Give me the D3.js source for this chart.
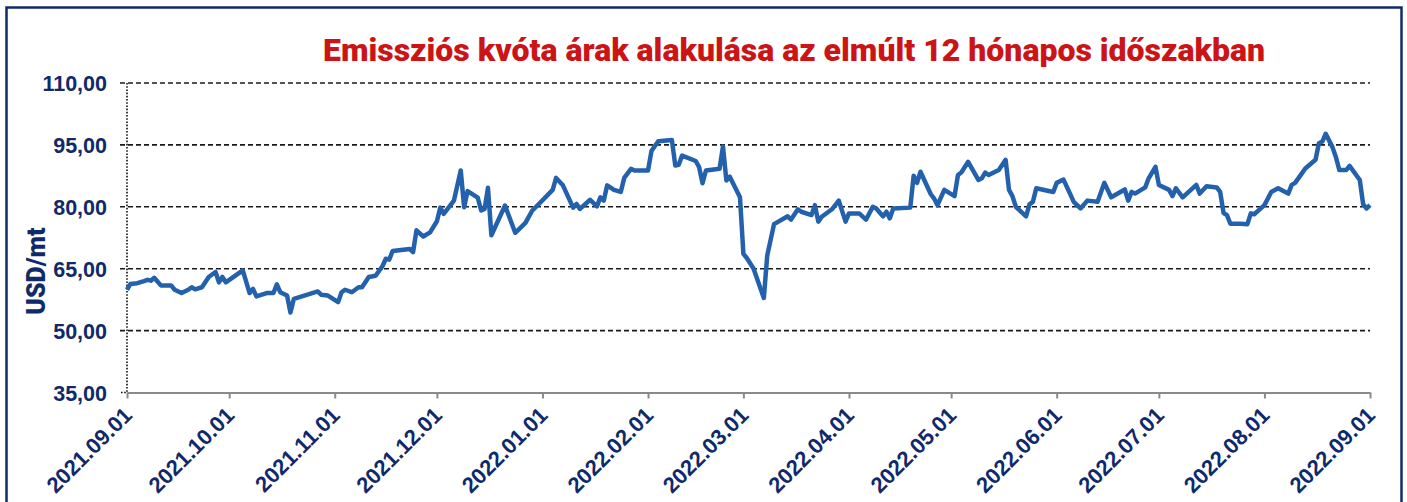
<!DOCTYPE html>
<html>
<head>
<meta charset="utf-8">
<script src="https://cdn.jsdelivr.net/npm/d3@7"></script>
<style>
  html, body { margin: 0; padding: 0; background: #fff; }
  svg { display: block; }
</style>
</head>
<body>
<div id="chart"></div>
<script>
// data (USD/mt)
titleText = "Emissziós kvóta árak alakulása az elmúlt 12 hónapos időszakban"
yLabel = "USD/mt"
yTicks = [35, 50, 65, 80, 95, 110]
dates = [
  "2021-09-01","2021-09-02","2021-09-04","2021-09-06","2021-09-07","2021-09-08","2021-09-09","2021-09-11",
  "2021-09-14","2021-09-15","2021-09-17","2021-09-19","2021-09-20","2021-09-21","2021-09-23","2021-09-25",
  "2021-09-27","2021-09-28","2021-09-29","2021-09-30","2021-10-05","2021-10-07","2021-10-08","2021-10-09",
  "2021-10-12","2021-10-14","2021-10-15","2021-10-16","2021-10-18","2021-10-19","2021-10-20","2021-10-24",
  "2021-10-27","2021-10-28","2021-10-30","2021-11-02","2021-11-03","2021-11-04","2021-11-06","2021-11-08",
  "2021-11-09","2021-11-11","2021-11-13","2021-11-15","2021-11-16","2021-11-17","2021-11-18","2021-11-23",
  "2021-11-24","2021-11-25","2021-11-27","2021-11-29","2021-12-01","2021-12-02","2021-12-03","2021-12-06",
  "2021-12-08","2021-12-09","2021-12-10","2021-12-13","2021-12-14","2021-12-15","2021-12-16","2021-12-17",
  "2021-12-21","2021-12-24","2021-12-27","2021-12-29","2021-12-30","2022-01-04","2022-01-05","2022-01-07",
  "2022-01-10","2022-01-11","2022-01-12","2022-01-15","2022-01-17","2022-01-18","2022-01-19","2022-01-20",
  "2022-01-22","2022-01-24","2022-01-25","2022-01-27","2022-01-28","2022-02-01","2022-02-02","2022-02-04",
  "2022-02-08","2022-02-09","2022-02-10","2022-02-11","2022-02-15","2022-02-16","2022-02-17","2022-02-18",
  "2022-02-22","2022-02-23","2022-02-24","2022-02-25","2022-02-28","2022-03-01","2022-03-02","2022-03-04",
  "2022-03-07","2022-03-08","2022-03-10","2022-03-14","2022-03-15","2022-03-17","2022-03-18","2022-03-21",
  "2022-03-22","2022-03-23","2022-03-24","2022-03-27","2022-03-29","2022-03-31","2022-04-01","2022-04-04",
  "2022-04-06","2022-04-08","2022-04-09","2022-04-11","2022-04-12","2022-04-13","2022-04-14","2022-04-19",
  "2022-04-20","2022-04-21","2022-04-22","2022-04-25","2022-04-26","2022-04-27","2022-04-29","2022-05-02",
  "2022-05-03","2022-05-04","2022-05-06","2022-05-09","2022-05-10","2022-05-11","2022-05-12","2022-05-15",
  "2022-05-17","2022-05-18","2022-05-19","2022-05-20","2022-05-23","2022-05-24","2022-05-25","2022-05-26",
  "2022-05-31","2022-06-01","2022-06-03","2022-06-05","2022-06-06","2022-06-08","2022-06-10","2022-06-13",
  "2022-06-15","2022-06-17","2022-06-21","2022-06-22","2022-06-23","2022-06-24","2022-06-27","2022-06-28",
  "2022-06-30","2022-07-01","2022-07-04","2022-07-05","2022-07-06","2022-07-08","2022-07-12","2022-07-13",
  "2022-07-15","2022-07-18","2022-07-19","2022-07-20","2022-07-21","2022-07-22","2022-07-25","2022-07-27",
  "2022-07-28","2022-07-29","2022-08-01","2022-08-03","2022-08-05","2022-08-08","2022-08-09","2022-08-10",
  "2022-08-12","2022-08-13","2022-08-16","2022-08-17","2022-08-18","2022-08-19","2022-08-21","2022-08-22",
  "2022-08-23","2022-08-25","2022-08-26","2022-08-29","2022-08-30","2022-08-31","2022-09-01"
]
prices = [
  59.9, 61.3, 61.5, 62.0, 62.3, 62.1, 62.8, 60.9,
  60.9, 59.9, 59.1, 59.9, 60.5, 60.0, 60.5, 63.0,
  64.2, 61.7, 63.0, 61.7, 64.6, 59.1, 60.1, 58.3,
  59.1, 59.1, 61.2, 59.3, 58.5, 54.4, 57.7, 58.7,
  59.5, 58.7, 58.5, 56.9, 59.3, 59.9, 59.3, 60.5,
  60.5, 63.0, 63.3, 65.6, 67.4, 67.2, 69.3, 69.8,
  69.0, 74.3, 72.8, 73.8, 76.5, 79.8, 78.3, 81.5,
  88.8, 79.9, 83.8, 82.2, 79.1, 79.5, 84.6, 73.1,
  80.3, 73.7, 76.1, 79.1, 79.9, 84.1, 87.0, 85.2,
  79.8, 80.7, 79.5, 81.7, 80.1, 82.3, 81.5, 85.2,
  84.1, 83.6, 87.0, 89.2, 88.8, 88.8, 93.5, 95.9,
  96.2, 90.0, 90.2, 92.4, 91.1, 89.6, 85.7, 88.8,
  89.2, 94.6, 86.4, 87.3, 82.3, 68.6, 67.6, 65.0,
  57.9, 68.2, 75.8, 77.7, 76.9, 79.4, 78.8, 78.0,
  80.4, 76.4, 77.6, 79.4, 81.5, 76.4, 78.4, 78.4,
  76.9, 80.0, 79.6, 77.7, 78.8, 77.2, 79.6, 79.8,
  87.5, 85.8, 88.5, 83.1, 82.0, 80.4, 84.1, 82.6,
  87.7, 88.3, 90.9, 86.5, 86.9, 88.3, 87.7, 88.9,
  91.4, 84.1, 82.6, 80.0, 77.7, 80.6, 81.2, 84.5,
  83.6, 85.8, 86.6, 83.0, 81.2, 79.6, 81.5, 81.2,
  85.8, 82.3, 84.2, 81.5, 83.6, 83.2, 84.7, 86.9,
  89.7, 85.3, 84.1, 82.6, 84.5, 82.3, 85.3, 83.2,
  85.0, 84.7, 83.6, 78.5, 78.0, 75.9, 75.9, 75.8,
  78.4, 78.2, 80.4, 83.6, 84.5, 83.2, 85.3, 85.8,
  88.1, 89.3, 91.4, 95.4, 95.8, 97.7, 94.4, 92.0,
  88.9, 88.9, 89.9, 86.5, 80.6, 79.6, 80.4
]

width = 1407
height = 502
navy = "#0f2a6b"
margin = ({top: 83, right: 37, bottom: 109.5, left: 127})

parseDate = d3.timeParse("%Y-%m-%d")
series = dates.map((d, i) => ({date: parseDate(d), value: prices[i]}))

huLocale = d3.formatLocale({decimal: ",", thousands: " ", grouping: [3], currency: ["", ""]})
fmt = huLocale.format(".2f")

x = d3.scaleTime()
  .domain([parseDate("2021-09-01"), parseDate("2022-09-01")])
  .range([margin.left, width - margin.right])
y = d3.scaleLinear()
  .domain([35, 110])
  .range([height - margin.bottom, margin.top])

svg = d3.select("#chart").append("svg")
  .attr("width", width)
  .attr("height", height)
  .style("font-family", "Roboto, 'Liberation Sans', sans-serif")

// frame around the chart
svg.append("rect")
  .attr("x", 6.5).attr("y", 7.5)
  .attr("width", 1395).attr("height", 620)
  .attr("fill", "none")
  .attr("stroke", navy)
  .attr("stroke-width", 2.5)

// title, squeezed to the width it has in the picture
svg.append("text")
  .attr("x", 323).attr("y", 61)
  .attr("textLength", 942)
  .attr("lengthAdjust", "spacingAndGlyphs")
  .attr("fill", "#cc1417")
  .style("font-size", "32px")
  .style("font-weight", 900)
  .text(titleText)

// dashed grid lines
svg.append("g")
  .selectAll("line")
  .data(yTicks.filter(d => d > 35))
  .enter().append("line")
  .attr("x1", 120).attr("x2", x.range()[1])
  .attr("y1", d => y(d)).attr("y2", d => y(d))
  .attr("stroke", "#1a1a1a")
  .attr("stroke-width", 1.6)
  .attr("stroke-dasharray", "5,3")

// y axis: dotted line, labels only
yAxis = d3.axisLeft(y).tickValues(yTicks).tickSize(0).tickPadding(20).tickFormat(fmt)
yG = svg.append("g")
  .attr("transform", `translate(${margin.left},0)`)
  .call(yAxis)
yG.select(".domain").remove()
yG.selectAll("text")
  .attr("fill", navy)
  .attr("dy", "0.36em")
  .style("font-size", "21.5px")
  .style("font-weight", 700)

svg.append("line")
  .attr("x1", margin.left).attr("x2", margin.left)
  .attr("y1", y(110)).attr("y2", y(35))
  .attr("stroke", "#111")
  .attr("stroke-width", 1.6)
  .attr("stroke-dasharray", "1.6,1.6")
svg.append("line")
  .attr("x1", 121).attr("x2", margin.left)
  .attr("y1", y(35)).attr("y2", y(35))
  .attr("stroke", "#111")
  .attr("stroke-width", 1.6)
  .attr("stroke-dasharray", "1.6,1.6")

// x axis: grey line and month ticks
xAxis = d3.axisBottom(x)
  .ticks(d3.timeMonth.every(1))
  .tickSize(6)
  .tickSizeOuter(0)
  .tickFormat(d3.timeFormat("%Y.%m.%d"))
xG = svg.append("g")
  .attr("transform", `translate(0,${y(35)})`)
  .call(xAxis)
xG.select(".domain").attr("stroke", "#8a8a8a").attr("stroke-width", 2)
xG.selectAll(".tick line").attr("stroke", "#8a8a8a").attr("stroke-width", 2)
xG.selectAll("text")
  .attr("fill", navy)
  .style("font-size", "22px")
  .style("font-weight", 700)
  .style("text-anchor", "end")
  .attr("x", 0).attr("y", 0)
  .attr("dx", "0").attr("dy", "0")
  .attr("transform", "translate(6,24) rotate(-45)")

// y axis title
svg.append("text")
  .attr("transform", "translate(45,271) rotate(-90)")
  .attr("text-anchor", "middle")
  .attr("fill", navy)
  .style("font-size", "25px")
  .style("font-weight", 900)
  .text(yLabel)

// price line
line = d3.line()
  .x(d => x(d.date))
  .y(d => y(d.value))
svg.append("path")
  .datum(series)
  .attr("fill", "none")
  .attr("stroke", "#2461ad")
  .attr("stroke-width", 4.5)
  .attr("stroke-linejoin", "round")
  .attr("d", line)
</script>
</body>
</html>
